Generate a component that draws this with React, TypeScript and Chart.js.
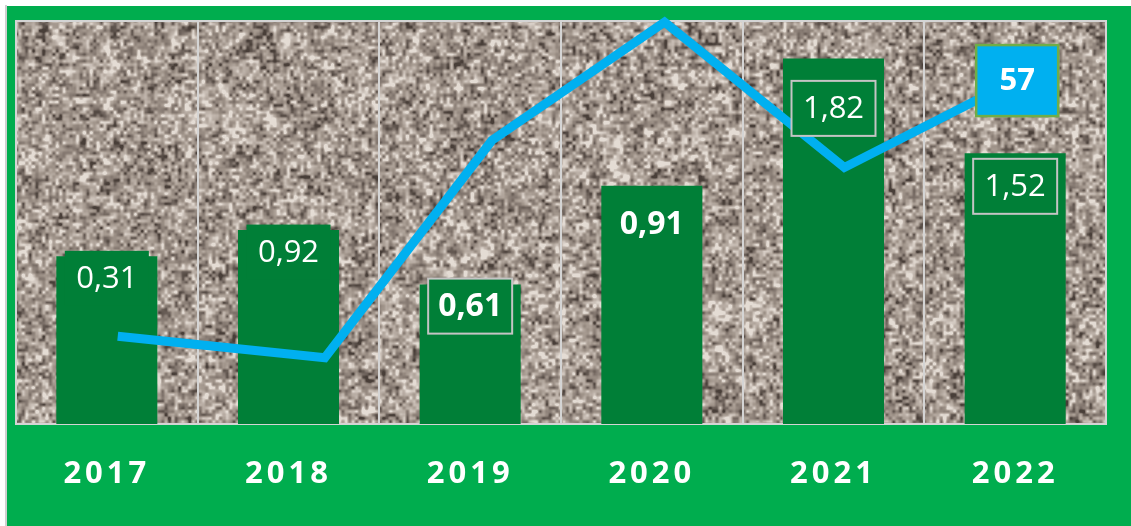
import React, { useEffect, useRef } from 'react';
import { Chart, registerables } from 'chart.js';

Chart.register(...registerables);

// ---- data ----
const categories = ['2017', '2018', '2019', '2020', '2021', '2022'];
const barValues = [0.83, 0.96, 0.69, 1.18, 1.81, 1.34];
const barLabels = ['0,31', '0,92', '0,61', '0,91', '1,82', '1,52'];
const linePositions = [0.06, 1.2, 2.12, 3.07, 4.06, 5.0];
const lineValues = [21.7, 16.4, 70.2, 99.5, 63.5, 85];
const lineEndLabel = '57';

// ---- styles ----
const FRAME = '#00ad4e';
const BAR = '#007f37';
const LINE = '#00b0f0';
const GRID = '#d4d4d4';
const labelOffsets = [22, 22, 21.5, 38.5, 50, 33];
const labelBoxes = ['fill', 'fill', 'border', 'none', 'border', 'border'];
const labelBold = [false, false, true, true, false, false];

let textureCache: HTMLCanvasElement | null = null;

function hash(x: number, y: number, s: number) {
  let h = (x * 374761393 + y * 668265263 + s * 982451653) | 0;
  h = Math.imul(h ^ (h >>> 13), 1274126177);
  h = h ^ (h >>> 16);
  return (h >>> 0) / 4294967296;
}

function vnoise(x: number, y: number, s: number) {
  const xi = Math.floor(x), yi = Math.floor(y);
  const xf = x - xi, yf = y - yi;
  const u = xf * xf * (3 - 2 * xf), v = yf * yf * (3 - 2 * yf);
  const a = hash(xi, yi, s), b = hash(xi + 1, yi, s);
  const c = hash(xi, yi + 1, s), d = hash(xi + 1, yi + 1, s);
  return a + (b - a) * u + (c - a) * v + (a - b - c + d) * u * v;
}

const stops: [number, number, number, number][] = [
  [0, 72, 62, 56],
  [0.3, 132, 120, 112],
  [0.55, 162, 150, 140],
  [0.8, 192, 181, 172],
  [1, 228, 220, 212],
];

function getTexture(w: number, h: number) {
  if (textureCache && textureCache.width === w && textureCache.height === h) return textureCache;
  const c = document.createElement('canvas');
  c.width = w;
  c.height = h;
  const cx = c.getContext('2d')!;
  const img = cx.createImageData(w, h);
  const d = img.data;
  for (let y = 0; y < h; y++) {
    for (let x = 0; x < w; x++) {
      const n = 0.6 * vnoise(x / 3.4, y / 3.4, 1) + 0.28 * vnoise(x / 7.5, y / 7.5, 2) + 0.12 * vnoise(x / 20, y / 20, 3);
      let t = (n - 0.5) * 1.65 + 0.56;
      t = Math.max(0, Math.min(1, t));
      let k = 0;
      while (k < stops.length - 2 && t > stops[k + 1][0]) k++;
      const s0 = stops[k], s1 = stops[k + 1];
      const f = (t - s0[0]) / (s1[0] - s0[0]);
      const i = (y * w + x) * 4;
      d[i] = s0[1] + (s1[1] - s0[1]) * f;
      d[i + 1] = s0[2] + (s1[2] - s0[2]) * f;
      d[i + 2] = s0[3] + (s1[3] - s0[3]) * f;
      d[i + 3] = 255;
    }
  }
  cx.putImageData(img, 0, 0);
  textureCache = c;
  return c;
}

const framePlugin = {
  id: 'frame',
  beforeDraw(chart: any) {
    const { ctx, width, height, chartArea: a } = chart;
    ctx.save();
    ctx.fillStyle = '#ffffff';
    ctx.fillRect(0, 0, width, height);
    ctx.fillStyle = '#cfcfcf';
    ctx.fillRect(5, 5, 2, height - 5);
    ctx.fillStyle = FRAME;
    ctx.fillRect(7, 6, width - 7, height - 6);
    const tw = Math.round(a.right - a.left), th = Math.round(a.bottom - a.top);
    ctx.drawImage(getTexture(tw, th), a.left, a.top);
    ctx.restore();
  },
  beforeDatasetsDraw(chart: any) {
    const { ctx, chartArea: a } = chart;
    ctx.save();
    ctx.strokeStyle = GRID;
    ctx.lineWidth = 2;
    ctx.beginPath();
    ctx.moveTo(a.left, a.top + 1);
    ctx.lineTo(a.right, a.top + 1);
    ctx.stroke();
    ctx.restore();
  },
  afterDatasetsDraw(chart: any) {
    const ctx = chart.ctx;
    ctx.save();
    ctx.textAlign = 'center';
    ctx.textBaseline = 'middle';
    // category labels, placed on the x scale
    const xs = chart.scales.x;
    ctx.letterSpacing = '4px';
    ctx.fillStyle = '#ffffff';
    ctx.font = 'bold 31px "Open Sans"';
    categories.forEach((c, i) => {
      ctx.fillText(c, xs.getPixelForValue(i), 474);
    });
    ctx.letterSpacing = '0px';
    const bars = chart.getDatasetMeta(0).data;
    bars.forEach((el: any, i: number) => {
      const cx = el.x;
      const cy = el.y + labelOffsets[i];
      const bw = 84, bh = 55;
      const kind = labelBoxes[i];
      if (kind !== 'none') {
        ctx.fillStyle = BAR;
        ctx.fillRect(cx - bw / 2, cy - bh / 2, bw, bh);
      }
      if (kind === 'border') {
        ctx.strokeStyle = '#c4c4c4';
        ctx.lineWidth = 2;
        ctx.strokeRect(cx - bw / 2, cy - bh / 2, bw, bh);
      }
      ctx.fillStyle = '#ffffff';
      ctx.font = labelBold[i] ? 'bold 32px "Open Sans"' : '31px "Open Sans"';
      ctx.fillText(barLabels[i], cx, cy + 1);
    });
    const pts = chart.getDatasetMeta(1).data;
    const p = pts[pts.length - 1];
    const bx = p.x + 2, by = p.y;
    const w = 82, h = 71;
    ctx.fillStyle = LINE;
    ctx.fillRect(bx - w / 2, by - h / 2, w, h);
    ctx.strokeStyle = '#70ad47';
    ctx.lineWidth = 2.5;
    ctx.strokeRect(bx - w / 2, by - h / 2, w, h);
    ctx.fillStyle = '#ffffff';
    ctx.font = 'bold 31px "Open Sans"';
    ctx.fillText(lineEndLabel, bx, by + 1);
    ctx.restore();
  },
};

export default function App() {
  const ref = useRef<HTMLCanvasElement>(null);
  useEffect(() => {
    if (!ref.current) return;
    const chart = new Chart(ref.current, {
      type: 'bar',
      data: {
        labels: categories,
        datasets: [
          {
            type: 'bar',
            data: barValues,
            backgroundColor: BAR,
            barPercentage: 0.556,
            categoryPercentage: 1,
            grouped: false,
            xAxisID: 'x',
            yAxisID: 'y',
            order: 2,
          } as any,
          {
            type: 'line',
            data: linePositions.map((x, i) => ({ x, y: lineValues[i] })),
            borderColor: LINE,
            borderWidth: 9,
            pointRadius: 0,
            tension: 0,
            borderCapStyle: 'butt',
            borderJoinStyle: 'miter',
            clip: false,
            xAxisID: 'x2',
            yAxisID: 'y2',
            order: 1,
          } as any,
        ],
      },
      options: {
        responsive: false,
        animation: false,
        layout: { padding: { left: 16, right: 25, top: 20, bottom: 102 } },
        plugins: { legend: { display: false }, tooltip: { enabled: false } },
        scales: {
          x: {
            type: 'category',
            offset: true,
            grid: { offset: true, color: GRID, lineWidth: 2, drawTicks: false },
            border: { display: true, color: GRID, width: 2 },
            ticks: { display: false },
          },
          x2: {
            type: 'linear',
            axis: 'x',
            display: false,
            offset: false,
            grid: { offset: false },
            min: -0.5,
            max: 5.5,
          },
          y: { display: false, min: 0, max: 2 },
          y2: { display: false, min: 0, max: 100, position: 'right' },
        },
      } as any,
      plugins: [framePlugin],
    });
    return () => chart.destroy();
  }, []);
  return (
    <div style={{ position: 'fixed', left: 0, top: 0, width: 1131, height: 526 }}>
      <canvas ref={ref} width={1131} height={526} style={{ display: 'block' }} />
    </div>
  );
}
